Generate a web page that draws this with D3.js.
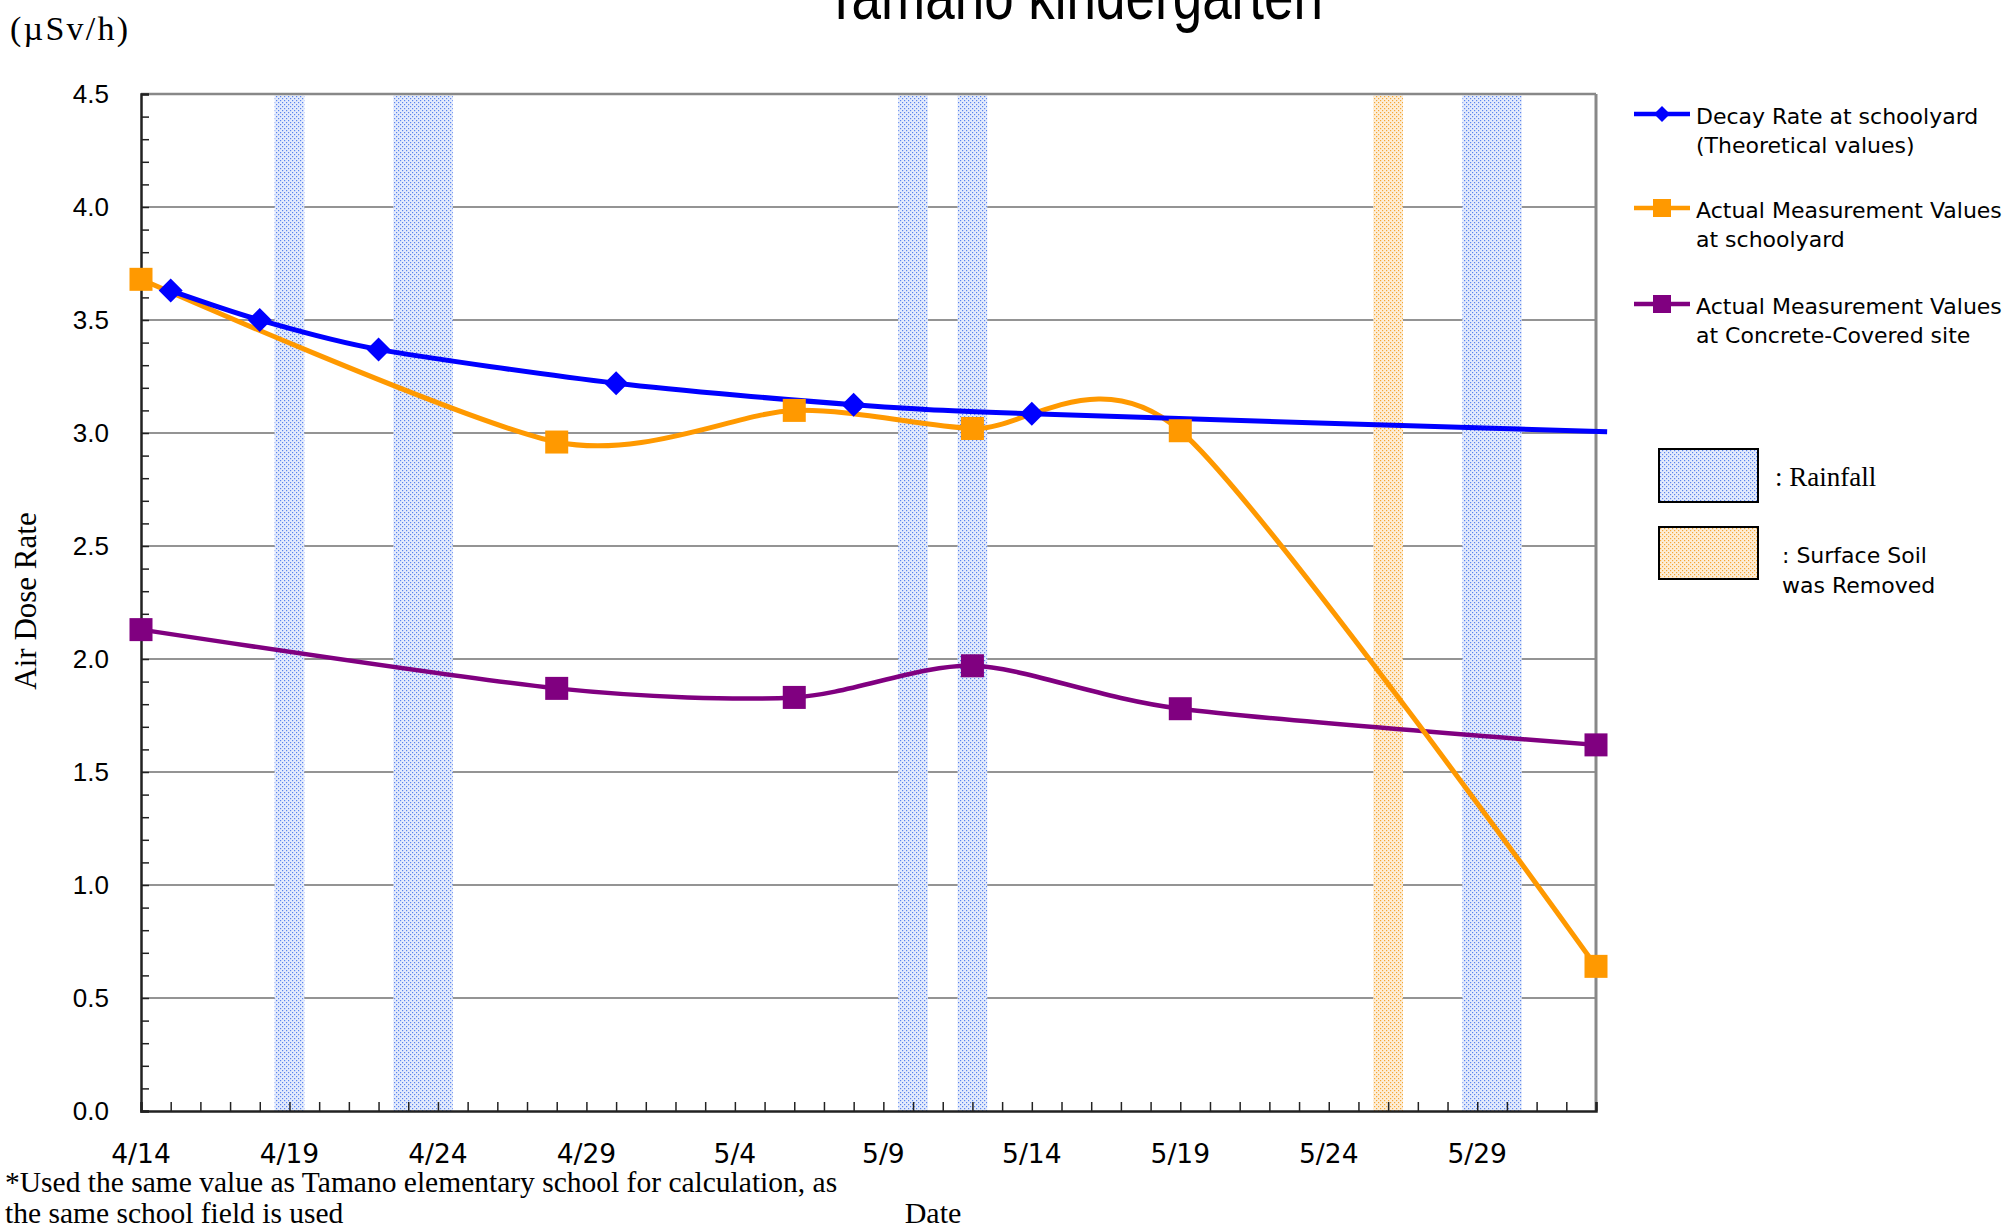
<!DOCTYPE html>
<html>
<head>
<meta charset="utf-8">
<script src="https://cdn.jsdelivr.net/npm/d3@7"></script>
<style>
  html, body { margin: 0; padding: 0; background: #fff; }
  svg { display: block; }
</style>
</head>
<body>
<svg id="chart" width="2013" height="1229"></svg>
<script>
// ---------------- DATA ----------------
const xDomain = ["2011-04-14", "2011-06-02"];
const yTickValues = [0.0, 0.5, 1.0, 1.5, 2.0, 2.5, 3.0, 3.5, 4.0, 4.5];

// Decay rate at schoolyard (theoretical) – last point is the line end (no marker)
const decayDates  = ["2011-04-15", "2011-04-18", "2011-04-22", "2011-04-30", "2011-05-08", "2011-05-14", "2011-06-02T09:00Z"];
const decayValues = [3.63, 3.50, 3.37, 3.22, 3.125, 3.085, 3.005];
const decayMarkers = [true, true, true, true, true, true, false];

// Actual measurement values at schoolyard
const schoolDates  = ["2011-04-14", "2011-04-28", "2011-05-06", "2011-05-12", "2011-05-19", "2011-06-02"];
const schoolValues = [3.68, 2.96, 3.10, 3.02, 3.01, 0.64];

// Actual measurement values at concrete-covered site
const concreteDates  = ["2011-04-14", "2011-04-28", "2011-05-06", "2011-05-12", "2011-05-19", "2011-06-02"];
const concreteValues = [2.13, 1.87, 1.83, 1.97, 1.78, 1.62];

// Event days (bands span each whole day)
const rainDays = ["2011-04-19", "2011-04-23", "2011-04-24", "2011-05-10", "2011-05-12", "2011-05-29", "2011-05-30"];
const soilRemovedDays = ["2011-05-26"];

const seriesNames = [
  ["Decay Rate at schoolyard", "(Theoretical values)"],
  ["Actual Measurement Values", "at schoolyard"],
  ["Actual Measurement Values", "at Concrete-Covered site"]
];

// ---------------- LAYOUT ----------------
const svg = d3.select("#chart");
const L = 141, R = 1596, T = 94, B = 1111;
const parse = s => d3.isoParse(s.length === 10 ? s + "T00:00Z" : s);
const DAY = 86400000;

const x = d3.scaleUtc().domain(xDomain.map(parse)).range([L, R]);
const y = d3.scaleLinear().domain([0, 4.5]).range([B, T]);

// patterns
const defs = svg.append("defs");
function dotPattern(id, bg, dot) {
  const p = defs.append("pattern").attr("id", id).attr("patternUnits", "userSpaceOnUse")
    .attr("width", 4).attr("height", 4);
  p.append("rect").attr("width", 4).attr("height", 4).attr("fill", bg);
  p.append("rect").attr("x", 0).attr("y", 0).attr("width", 1.2).attr("height", 1.2).attr("fill", dot);
  p.append("rect").attr("x", 2).attr("y", 2).attr("width", 1.2).attr("height", 1.2).attr("fill", dot);
}
dotPattern("rain", "#e4ebfc", "#5a84ee");
dotPattern("soil", "#fdeed8", "#f6a735");

// gridlines
svg.append("g").selectAll("line").data(yTickValues.filter(v => v > 0 && v < 4.5)).join("line")
  .attr("x1", L).attr("x2", R).attr("y1", d => y(d)).attr("y2", d => y(d))
  .attr("stroke", "#2a2a2a").attr("stroke-width", 1.2);

// bands
function bands(days, fill) {
  svg.append("g").selectAll("rect").data(days).join("rect")
    .attr("x", d => x(new Date(+parse(d) - DAY / 2)))
    .attr("width", d => x(new Date(+parse(d) + DAY / 2)) - x(new Date(+parse(d) - DAY / 2)))
    .attr("y", T + 1.5).attr("height", B - T - 1.5)
    .attr("fill", fill);
}
bands(rainDays, "url(#rain)");
bands(soilRemovedDays, "url(#soil)");

// frame: top/right grey, left/bottom dark
svg.append("line").attr("x1", L).attr("x2", R).attr("y1", T).attr("y2", T).attr("stroke", "#888").attr("stroke-width", 2.5);
svg.append("line").attr("x1", R).attr("x2", R).attr("y1", T).attr("y2", B).attr("stroke", "#888").attr("stroke-width", 3);

// axes
const yAxis = d3.axisLeft(y).tickValues(d3.range(0, 46).map(i => i / 10)).tickSize(-8).tickFormat("");
svg.append("g").attr("transform", `translate(${L},0)`).call(yAxis)
  .call(g => g.select(".domain").attr("stroke", "#222").attr("stroke-width", 2.5))
  .call(g => g.selectAll(".tick line").attr("stroke", "#222").attr("stroke-width", 1.5));
svg.append("g").selectAll("text").data(yTickValues).join("text")
  .attr("x", 109).attr("y", d => y(d) + 9)
  .attr("text-anchor", "end").attr("font-family", "Liberation Sans, Arial, sans-serif")
  .attr("font-size", 26).text(d => d.toFixed(1));

const allDays = d3.utcDay.range(parse(xDomain[0]), new Date(+parse(xDomain[1]) + 1));
const xAxis = d3.axisBottom(x).tickValues(allDays).tickSize(-9).tickFormat("");
svg.append("g").attr("transform", `translate(0,${B})`).call(xAxis)
  .call(g => g.select(".domain").attr("stroke", "#222").attr("stroke-width", 2.5))
  .call(g => g.selectAll(".tick line").attr("stroke", "#222").attr("stroke-width", 1.5));
const labelDays = allDays.filter((d, i) => i % 5 === 0 && i < 49);
const fmt = d3.utcFormat("%-m/%-d");
svg.append("g").selectAll("text").data(labelDays).join("text")
  .attr("x", d => x(d)).attr("y", 1163)
  .attr("text-anchor", "middle").attr("font-family", "DejaVu Sans, sans-serif")
  .attr("font-size", 26.5).text(d => fmt(d));

// series
const curve = d3.curveCardinal.tension(0.2);
const line = d3.line().x(d => x(d[0])).y(d => y(d[1])).curve(curve);
const zip = (ds, vs) => ds.map((d, i) => [parse(d), vs[i]]);
const decay = zip(decayDates, decayValues);
const school = zip(schoolDates, schoolValues);
const concrete = zip(concreteDates, concreteValues);

svg.append("path").datum(concrete).attr("d", line).attr("fill", "none").attr("stroke", "#800080").attr("stroke-width", 4.5);
svg.append("path").datum(school).attr("d", line).attr("fill", "none").attr("stroke", "#ff9900").attr("stroke-width", 5);
svg.append("path").datum(decay).attr("d", line).attr("fill", "none").attr("stroke", "#0000ff").attr("stroke-width", 5);

function squares(data, color, s) {
  svg.append("g").selectAll("rect").data(data).join("rect")
    .attr("x", d => x(d[0]) - s / 2).attr("y", d => y(d[1]) - s / 2)
    .attr("width", s).attr("height", s).attr("fill", color);
}
squares(concrete, "#800080", 23);
squares(school, "#ff9900", 23);
const diamond = r => `M0,${-r}L${r},0L0,${r}L${-r},0Z`;
svg.append("g").selectAll("path").data(decay.filter((d, i) => decayMarkers[i])).join("path")
  .attr("transform", d => `translate(${x(d[0])},${y(d[1])})`)
  .attr("d", diamond(12)).attr("fill", "#0000ff");

// legend
const legColors = ["#0000ff", "#ff9900", "#800080"];
const legY = [114, 208, 304];
const leg = svg.append("g");
seriesNames.forEach((names, i) => {
  leg.append("line").attr("x1", 1634).attr("x2", 1690).attr("y1", legY[i]).attr("y2", legY[i])
    .attr("stroke", legColors[i]).attr("stroke-width", 4.5);
  if (i === 0) leg.append("path").attr("transform", `translate(1662,${legY[i]})`).attr("d", diamond(8)).attr("fill", legColors[i]);
  else leg.append("rect").attr("x", 1662 - 9).attr("y", legY[i] - 9).attr("width", 18).attr("height", 18).attr("fill", legColors[i]);
  names.forEach((t, j) => {
    leg.append("text").attr("x", 1696).attr("y", legY[i] + 10 + j * 29)
      .attr("font-family", "DejaVu Sans, sans-serif").attr("font-size", 22).text(t);
  });
});
leg.append("rect").attr("x", 1659).attr("y", 449).attr("width", 99).attr("height", 53)
  .attr("fill", "url(#rain)").attr("stroke", "#000").attr("stroke-width", 2);
leg.append("text").attr("x", 1775).attr("y", 486).attr("font-family", "Liberation Serif, Times New Roman, serif")
  .attr("font-size", 27).text(": Rainfall");
leg.append("rect").attr("x", 1659).attr("y", 527).attr("width", 99).attr("height", 52)
  .attr("fill", "url(#soil)").attr("stroke", "#000").attr("stroke-width", 2);
leg.append("text").attr("x", 1782).attr("y", 563).attr("font-family", "DejaVu Sans, sans-serif")
  .attr("font-size", 22).text(": Surface Soil");
leg.append("text").attr("x", 1782).attr("y", 593).attr("font-family", "DejaVu Sans, sans-serif")
  .attr("font-size", 22).text("was Removed");

// titles & notes
svg.append("text").attr("transform", "translate(1074,19) scale(1,1.25)")
  .attr("text-anchor", "middle").attr("font-family", "Liberation Sans, Arial, sans-serif")
  .attr("font-size", 53).text("Tamano kindergarten");
svg.append("text").attr("x", 10).attr("y", 40).attr("font-family", "Liberation Serif, Times New Roman, serif")
  .attr("font-size", 34).attr("textLength", 118).attr("lengthAdjust", "spacing").text("(µSv/h)");
svg.append("text").attr("transform", "translate(36,601) rotate(-90)")
  .attr("text-anchor", "middle").attr("font-family", "Liberation Serif, Times New Roman, serif")
  .attr("font-size", 31).text("Air Dose Rate");
svg.append("text").attr("x", 933).attr("y", 1223).attr("text-anchor", "middle")
  .attr("font-family", "Liberation Serif, Times New Roman, serif").attr("font-size", 30).text("Date");
svg.append("text").attr("x", 5).attr("y", 1192)
  .attr("font-family", "Liberation Serif, Times New Roman, serif").attr("font-size", 29.5)
  .text("*Used the same value as Tamano elementary school for calculation, as");
svg.append("text").attr("x", 5).attr("y", 1223)
  .attr("font-family", "Liberation Serif, Times New Roman, serif").attr("font-size", 29.5)
  .text("the same school field is used");
</script>
</body>
</html>
